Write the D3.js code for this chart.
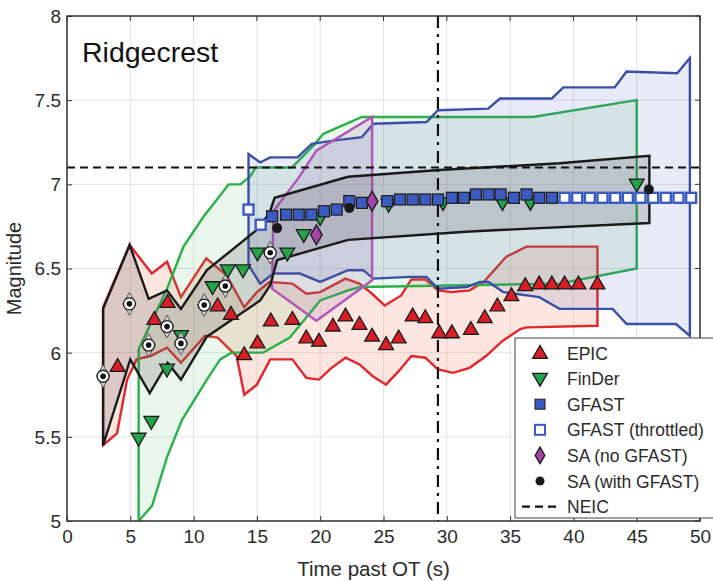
<!DOCTYPE html>
<html>
<head>
<meta charset="utf-8">
<script src="https://cdn.jsdelivr.net/npm/d3@7/dist/d3.min.js"></script>
<style>
  body { margin: 0; background: #fff; }
  svg { font-family: "Liberation Sans", Arial, sans-serif; }
</style>
</head>
<body>
<svg id="chart"></svg>
<script>
// ---- data (time past OT in s, magnitude) ----
const xTicks = [0, 5, 10, 15, 20, 25, 30, 35, 40, 45, 50];
const yTicks = [5, 5.5, 6, 6.5, 7, 7.5, 8];

const neicMag = 7.1;
const alertTime = 29.3;

// uncertainty bands
const epicUpper = [[2.85,6.27],[4.95,6.64],[6.7,6.47],[7.9,6.54],[9.0,6.33],[11.0,6.56],[12.6,6.46],[14.0,6.27],[15.0,6.36],[16.0,6.42],[17.8,6.41],[18.9,6.35],[20.0,6.36],[21.0,6.40],[22.0,6.44],[23.1,6.41],[24.1,6.35],[25.1,6.28],[26.4,6.34],[27.2,6.435],[28.3,6.435],[29.3,6.37],[30.4,6.36],[31.8,6.37],[32.9,6.42],[34.7,6.57],[36.3,6.63],[41.9,6.63]];
const epicLower = [[2.85,5.45],[3.95,5.52],[4.75,5.84],[5.5,5.96],[6.6,5.98],[7.9,6.03],[9.0,5.94],[10.9,6.10],[11.9,6.09],[13.4,5.98],[14.0,5.75],[15.0,5.81],[16.05,5.96],[17.8,5.96],[18.9,5.85],[19.9,5.84],[20.9,5.91],[22.0,5.97],[23.1,5.93],[24.15,5.86],[25.2,5.81],[26.2,5.89],[27.2,5.98],[28.3,5.97],[29.3,5.90],[30.5,5.88],[31.8,5.91],[33.1,5.98],[34.4,6.07],[35.8,6.14],[36.3,6.15],[41.9,6.16]];

const finderUpper = [[5.66,6.02],[7.9,6.38],[9.2,6.63],[10.8,6.81],[11.85,6.91],[12.76,7.0],[13.7,7.0],[14.5,7.05],[14.9,7.1],[17.76,7.1],[19.46,7.23],[20.25,7.3],[23.3,7.4],[36.8,7.4],[45.0,7.5]];
const finderLower = [[5.66,5.0],[6.72,5.09],[7.9,5.38],[9.08,5.6],[11.05,5.84],[12.1,5.96],[13.0,6.0],[15.5,6.0],[17.6,6.09],[20.0,6.31],[22.2,6.37],[23.15,6.39],[38.9,6.41],[45.0,6.5]];

const gfastUpper = [[14.34,7.18],[15.26,7.13],[16.05,7.16],[18.2,7.16],[19.34,7.24],[21.04,7.26],[23.28,7.28],[24.2,7.36],[28.4,7.37],[29.3,7.44],[33.27,7.45],[34.2,7.51],[38.3,7.51],[39.2,7.576],[43.26,7.576],[44.2,7.67],[48.2,7.66],[49.2,7.75]];
const gfastLower = [[14.34,6.52],[15.26,6.41],[16.3,6.47],[18.4,6.47],[20.0,6.42],[22.2,6.49],[23.4,6.49],[24.2,6.44],[27.1,6.45],[28.4,6.45],[29.3,6.38],[31.6,6.39],[32.6,6.42],[33.3,6.42],[34.45,6.36],[37.3,6.33],[38.9,6.26],[43.1,6.26],[44.2,6.17],[48.1,6.17],[49.2,6.10]];

const saNoUpper = [[16.3,6.84],[18.3,7.04],[19.7,7.2],[24.1,7.40]];
const saNoLower = [[16.2,6.38],[19.7,6.19],[24.1,6.43]];

const saUpper = [[2.85,6.26],[4.95,6.64],[6.45,6.32],[7.9,6.37],[9.0,6.26],[11.05,6.49],[15.0,6.73],[16.0,6.83],[16.4,6.92],[22.2,7.045],[29.4,7.085],[38.9,7.125],[46.0,7.17]];
const saLower = [[2.85,5.45],[5.0,5.96],[6.53,5.76],[7.95,5.94],[9.0,5.84],[11.05,6.095],[15.26,6.31],[16.05,6.40],[16.6,6.55],[22.2,6.67],[31.8,6.72],[46.0,6.77]];

// point estimates
const epicPts = [[4.0,5.92],[6.9,6.2],[7.95,6.30],[11.9,6.28],[12.95,6.23],[14.0,5.99],[15.05,6.06],[16.1,6.19],[17.8,6.2],[18.9,6.09],[19.9,6.07],[21.0,6.16],[22.0,6.22],[23.1,6.17],[24.1,6.1],[25.2,6.05],[26.2,6.09],[27.3,6.22],[28.3,6.21],[29.4,6.12],[30.4,6.12],[31.9,6.14],[33.0,6.21],[34.0,6.28],[35.1,6.34],[36.2,6.40],[37.3,6.41],[38.3,6.41],[39.3,6.41],[40.4,6.41],[41.9,6.41]];
const finderPts = [[5.66,5.49],[6.66,5.59],[7.9,5.90],[9.0,6.10],[11.5,6.39],[12.7,6.49],[13.9,6.49],[15.05,6.59],[17.4,6.59],[18.7,6.70],[20.0,6.80],[25.4,6.88],[29.7,6.89],[34.4,6.89],[36.6,6.89],[45.0,7.0]];
const gfastPts = [[16.2,6.81],[17.3,6.82],[18.3,6.82],[19.3,6.82],[20.3,6.84],[21.3,6.85],[22.3,6.90],[23.3,6.89],[25.3,6.90],[26.3,6.91],[27.3,6.91],[28.3,6.91],[29.3,6.91],[30.4,6.92],[31.35,6.92],[32.3,6.94],[33.3,6.94],[34.25,6.94],[35.3,6.92],[36.3,6.94],[37.3,6.92],[38.3,6.92]];
const gfastThrottled = [[14.34,6.85],[15.3,6.76],[39.3,6.92],[40.3,6.92],[41.3,6.92],[42.3,6.92],[43.3,6.92],[44.3,6.92],[45.3,6.92],[46.3,6.92],[47.3,6.92],[48.3,6.92],[49.3,6.92]];
const saNoPts = [[19.7,6.70],[24.1,6.90]];
const saPts = [[16.6,6.74],[22.3,6.86],[45.96,6.97]];
const saSharedPts = [[2.85,5.86],[4.93,6.29],[6.45,6.045],[7.9,6.155],[9.0,6.055],[10.84,6.283],[12.5,6.396],[16.05,6.594]];

const legendItems = ['EPIC', 'FinDer', 'GFAST', 'GFAST (throttled)', 'SA (no GFAST)', 'SA (with GFAST)', 'NEIC'];

// ---- layout ----
const width = 713, height = 581;
const margin = {top: 16, right: 13, bottom: 60, left: 67};
const iw = width - margin.left - margin.right;
const ih = height - margin.top - margin.bottom;

const svg = d3.select('#chart').attr('width', width).attr('height', height);
const g = svg.append('g').attr('transform', `translate(${margin.left},${margin.top})`);

const x = d3.scaleLinear().domain([0, 50]).range([0, iw]);
const y = d3.scaleLinear().domain([5, 8]).range([ih, 0]);

svg.append('defs').append('clipPath').attr('id', 'plotclip')
  .append('rect').attr('width', iw).attr('height', ih);

// grid
g.append('g').selectAll('line').data(xTicks).join('line')
  .attr('x1', d => x(d)).attr('x2', d => x(d)).attr('y1', 0).attr('y2', ih)
  .attr('stroke', '#e3e3e3').attr('stroke-width', 1);
g.append('g').selectAll('line').data(yTicks).join('line')
  .attr('y1', d => y(d)).attr('y2', d => y(d)).attr('x1', 0).attr('x2', iw)
  .attr('stroke', '#e3e3e3').attr('stroke-width', 1);

const plot = g.append('g').attr('clip-path', 'url(#plotclip)');

const line = d3.line().x(d => x(d[0])).y(d => y(d[1]));
function band(upper, lower, stroke, fill) {
  const pts = upper.concat(lower.slice().reverse());
  plot.append('path')
    .attr('d', line(pts) + 'Z')
    .attr('fill', fill)
    .attr('stroke', stroke)
    .attr('stroke-width', 2.4)
    .attr('stroke-linejoin', 'miter');
}

band(epicUpper, epicLower, '#e2262b', 'rgba(248,140,110,0.22)');
band(finderUpper, finderLower, '#2bb04a', 'rgba(90,190,110,0.13)');
band(gfastUpper, gfastLower, '#3a4fa6', 'rgba(80,95,190,0.13)');
band(saNoUpper, saNoLower, '#b155bb', 'rgba(140,80,160,0.14)');
band(saUpper, saLower, '#1a1a1a', 'rgba(90,80,95,0.2)');

// reference lines
plot.append('line')
  .attr('x1', 0).attr('x2', iw).attr('y1', y(neicMag)).attr('y2', y(neicMag))
  .attr('stroke', '#111').attr('stroke-width', 2.2).attr('stroke-dasharray', '8,5');
plot.append('line')
  .attr('x1', x(alertTime)).attr('x2', x(alertTime)).attr('y1', 0).attr('y2', ih)
  .attr('stroke', '#111').attr('stroke-width', 2.2).attr('stroke-dasharray', '12,6,3,6');

// markers
const triUp = d3.symbol().type(d3.symbolTriangle).size(95);
plot.append('g').selectAll('path').data(epicPts).join('path')
  .attr('d', triUp)
  .attr('transform', d => `translate(${x(d[0])},${y(d[1]) + 1})`)
  .attr('fill', '#d81f27').attr('stroke', '#1a1a1a').attr('stroke-width', 1.3);

plot.append('g').selectAll('path').data(finderPts).join('path')
  .attr('d', triUp)
  .attr('transform', d => `translate(${x(d[0])},${y(d[1]) - 1}) rotate(180)`)
  .attr('fill', '#23a44a').attr('stroke', '#1a1a1a').attr('stroke-width', 1.3);

plot.append('g').selectAll('rect').data(gfastPts).join('rect')
  .attr('x', d => x(d[0]) - 5.5).attr('y', d => y(d[1]) - 5.5)
  .attr('width', 11).attr('height', 11)
  .attr('fill', '#3b5bc0').attr('stroke', '#1a1a1a').attr('stroke-width', 1.2);

plot.append('g').selectAll('rect').data(gfastThrottled).join('rect')
  .attr('x', d => x(d[0]) - 5).attr('y', d => y(d[1]) - 5)
  .attr('width', 10).attr('height', 10)
  .attr('fill', '#fff').attr('stroke', '#3a5ac4').attr('stroke-width', 2.4);

const diamond = d3.symbol().type(d3.symbolDiamond).size(115);
plot.append('g').selectAll('path').data(saNoPts).join('path')
  .attr('d', diamond)
  .attr('transform', d => `translate(${x(d[0])},${y(d[1])})`)
  .attr('fill', '#a443a8').attr('stroke', '#1a1a1a').attr('stroke-width', 1.3);

plot.append('g').selectAll('circle').data(saPts).join('circle')
  .attr('cx', d => x(d[0])).attr('cy', d => y(d[1])).attr('r', 5)
  .attr('fill', '#1a1a1a');

// points where SA with and without GFAST agree
const shared = plot.append('g').selectAll('g').data(saSharedPts).join('g')
  .attr('transform', d => `translate(${x(d[0])},${y(d[1])})`);
shared.append('path').attr('d', d3.symbol().type(d3.symbolDiamond).size(150))
  .attr('fill', '#cfcfcf').attr('stroke', '#555').attr('stroke-width', 1);
shared.append('circle').attr('r', 6).attr('fill', '#fff').attr('stroke', '#222').attr('stroke-width', 1.3);
shared.append('circle').attr('r', 2.8).attr('fill', '#111');

// axes (inward ticks, MATLAB style)
const xAxis = d3.axisBottom(x).tickValues(xTicks).tickSize(-5).tickPadding(9).tickFormat(d3.format('d'));
const yAxis = d3.axisLeft(y).tickValues(yTicks).tickSize(-5).tickPadding(6).tickFormat(d => d);
const gx = g.append('g').attr('transform', `translate(0,${ih})`).call(xAxis);
const gy = g.append('g').call(yAxis);
[gx, gy].forEach(a => {
  a.select('.domain').remove();
  a.selectAll('line').attr('stroke', '#333');
  a.selectAll('text').attr('font-size', 19).attr('fill', '#2b2b2b')
    .attr('font-family', '"Liberation Sans", Arial, sans-serif');
});
gy.selectAll('text').attr('dy', '0.34em');
// top/right ticks
g.append('g').selectAll('line').data(xTicks).join('line')
  .attr('x1', d => x(d)).attr('x2', d => x(d)).attr('y1', 0).attr('y2', 5).attr('stroke', '#333');
g.append('g').selectAll('line').data(yTicks).join('line')
  .attr('x1', iw).attr('x2', iw - 5).attr('y1', d => y(d)).attr('y2', d => y(d)).attr('stroke', '#333');

g.append('rect').attr('width', iw).attr('height', ih)
  .attr('fill', 'none').attr('stroke', '#333').attr('stroke-width', 1.5);

// labels
g.append('text').attr('x', iw / 2 - 10).attr('y', ih + 55)
  .attr('text-anchor', 'middle').attr('font-size', 20.5).attr('fill', '#2b2b2b')
  .text('Time past OT (s)');
g.append('text').attr('transform', `translate(-46,${ih / 2}) rotate(-90)`)
  .attr('text-anchor', 'middle').attr('font-size', 20).attr('fill', '#2b2b2b')
  .text('Magnitude');
g.append('text').attr('x', 15).attr('y', 46)
  .attr('font-size', 28.5).attr('fill', '#111').text('Ridgecrest');

// legend
const lg = svg.append('g').attr('transform', 'translate(515,338)');
lg.append('rect').attr('width', 210).attr('height', 180)
  .attr('fill', '#fff').attr('stroke', '#444').attr('stroke-width', 1);
const rowY = i => 15 + i * 25.6;
const mx = 25;
legendItems.forEach((label, i) => {
  const row = lg.append('g').attr('transform', `translate(0,${rowY(i)})`);
  if (i === 0) row.append('path').attr('d', triUp).attr('transform', `translate(${mx},1)`)
    .attr('fill', '#d81f27').attr('stroke', '#1a1a1a').attr('stroke-width', 1.3);
  if (i === 1) row.append('path').attr('d', triUp).attr('transform', `translate(${mx},-1) rotate(180)`)
    .attr('fill', '#23a44a').attr('stroke', '#1a1a1a').attr('stroke-width', 1.3);
  if (i === 2) row.append('rect').attr('x', mx - 5).attr('y', -5).attr('width', 10).attr('height', 10)
    .attr('fill', '#3b5bc0').attr('stroke', '#1a1a1a').attr('stroke-width', 1);
  if (i === 3) row.append('rect').attr('x', mx - 5).attr('y', -5).attr('width', 10).attr('height', 10)
    .attr('fill', '#fff').attr('stroke', '#3a5ac4').attr('stroke-width', 2);
  if (i === 4) row.append('path').attr('d', d3.symbol().type(d3.symbolDiamond).size(80))
    .attr('transform', `translate(${mx},0)`)
    .attr('fill', '#a443a8').attr('stroke', '#1a1a1a').attr('stroke-width', 1.3);
  if (i === 5) row.append('circle').attr('cx', mx).attr('r', 4.5).attr('fill', '#1a1a1a');
  if (i === 6) row.append('line').attr('x1', 7).attr('x2', 43).attr('y1', 0).attr('y2', 0)
    .attr('stroke', '#111').attr('stroke-width', 2.2).attr('stroke-dasharray', '8,5');
  row.append('text').attr('x', 52).attr('y', 6.5)
    .attr('font-size', 17.5).attr('fill', '#2b2b2b').text(label);
});
</script>
</body>
</html>
